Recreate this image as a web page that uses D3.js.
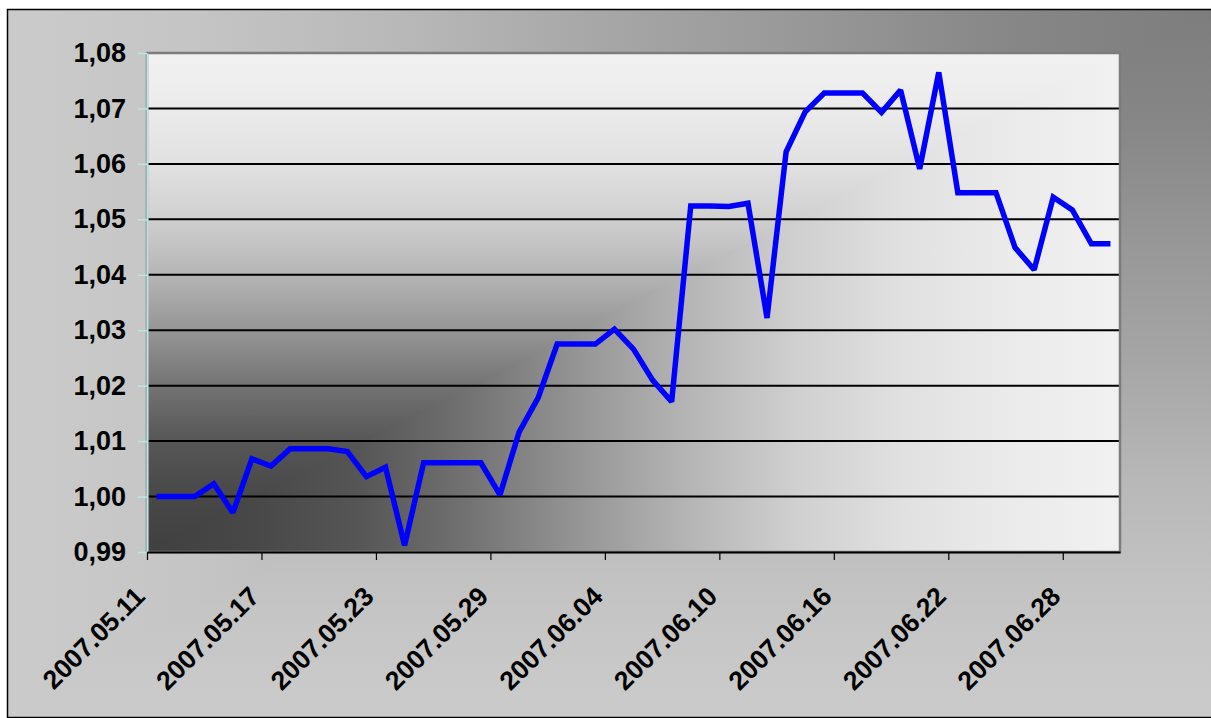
<!DOCTYPE html>
<html>
<head>
<meta charset="utf-8">
<script src="https://cdn.jsdelivr.net/npm/d3@7"></script>
<style>
  body { margin: 0; background: #fff; }
  svg text { font-family: "Liberation Sans", Arial, sans-serif; font-weight: bold; }
</style>
</head>
<body>
<svg id="chart"></svg>
<script>
// categories (one per day)
const dates = [
  "2007.05.11","2007.05.12","2007.05.13","2007.05.14","2007.05.15","2007.05.16","2007.05.17",
  "2007.05.18","2007.05.19","2007.05.20","2007.05.21","2007.05.22","2007.05.23","2007.05.24",
  "2007.05.25","2007.05.26","2007.05.27","2007.05.28","2007.05.29","2007.05.30","2007.05.31",
  "2007.06.01","2007.06.02","2007.06.03","2007.06.04","2007.06.05","2007.06.06","2007.06.07",
  "2007.06.08","2007.06.09","2007.06.10","2007.06.11","2007.06.12","2007.06.13","2007.06.14",
  "2007.06.15","2007.06.16","2007.06.17","2007.06.18","2007.06.19","2007.06.20","2007.06.21",
  "2007.06.22","2007.06.23","2007.06.24","2007.06.25","2007.06.26","2007.06.27","2007.06.28",
  "2007.06.29","2007.06.30"
];
// series values
const values = [
  1.0000, 1.0000, 1.0000, 1.0023, 0.9971, 1.0068, 1.0055,
  1.0086, 1.0086, 1.0086, 1.0081, 1.0036, 1.0053, 0.9912,
  1.0061, 1.0061, 1.0061, 1.0061, 1.0003, 1.0116, 1.0178,
  1.0275, 1.0275, 1.0275, 1.0302, 1.0266, 1.0210, 1.0171,
  1.0524, 1.0524, 1.0523, 1.0529, 1.0322, 1.0622, 1.0694,
  1.0728, 1.0728, 1.0728, 1.0693, 1.0733, 1.0591, 1.0765,
  1.0548, 1.0548, 1.0548, 1.0449, 1.0409, 1.0540, 1.0517,
  1.0456, 1.0456
];
// tick labels
const yTicks = [0.99, 1.00, 1.01, 1.02, 1.03, 1.04, 1.05, 1.06, 1.07, 1.08];
const xTickDates = ["2007.05.11","2007.05.17","2007.05.23","2007.05.29","2007.06.04",
                    "2007.06.10","2007.06.16","2007.06.22","2007.06.28"];

const width = 1211, height = 718;
const margin = {top: 53, right: 91, bottom: 166, left: 147};
const pw = width - margin.left - margin.right,
      ph = height - margin.top - margin.bottom;

const svg = d3.select("#chart").attr("width", width).attr("height", height);
const defs = svg.append("defs");

// gradient helper: stops given as [t, gray]
function grad(id, x1, y1, x2, y2, stops) {
  const g = defs.append("linearGradient").attr("id", id)
    .attr("x1", x1).attr("y1", y1).attr("x2", x2).attr("y2", y2);
  stops.forEach(s => g.append("stop").attr("offset", s[0])
    .attr("stop-color", d3.rgb(s[1], s[1], s[1])));
}
const outerStops = [[0,125],[0.17,135],[0.34,152],[0.5,166],[0.67,184],[0.85,197],[1,203]];
const plotStops = [[0,64],[0.11,72],[0.22,86],[0.33,114],[0.44,148],[0.56,182],[0.67,208],[0.78,225],[0.89,235],[1,241]];
// outer: dark at top-right corner
grad("outerH", 1, 0, 0, 0, outerStops);
grad("outerV", 0, 0, 0, 1, outerStops);
// plot: dark at bottom-left corner
grad("plotH", 0, 0, 1, 0, plotStops);
grad("plotV", 0, 1, 0, 0, plotStops);

// outer background
const ox = 7, oy = 9, ow = width - ox + 2, oh = height - oy - 1;
svg.append("rect").attr("x", ox).attr("y", oy).attr("width", ow).attr("height", oh)
  .attr("fill", "url(#outerV)");
svg.append("path")
  .attr("d", `M${ox},${oy}L${ox + ow},${oy}L${ox},${oy + oh}Z`)
  .attr("fill", "url(#outerH)");
svg.append("rect").attr("x", ox + 0.5).attr("y", oy + 0.5).attr("width", ow).attr("height", oh)
  .attr("fill", "none").attr("stroke", "#000").attr("stroke-width", 1.5);

const g = svg.append("g").attr("transform", `translate(${margin.left},${margin.top})`);

// plot area background
g.append("rect").attr("width", pw).attr("height", ph).attr("fill", "url(#plotH)");
g.append("path").attr("d", `M0,${ph}L0,0L${pw},0Z`).attr("fill", "url(#plotV)");

const x = d3.scaleLinear().domain([0, dates.length]).range([0, pw]);
const y = d3.scaleLinear().domain([0.99, 1.08]).range([ph, 0]);

const locale = d3.formatLocale({decimal: ",", thousands: ".", grouping: [3], currency: ["", ""]});
const fmt = locale.format(".2f");

// gridlines
g.append("g").selectAll("line")
  .data(yTicks.filter(t => t > 0.995 && t < 1.075))
  .join("line")
  .attr("x1", 0).attr("x2", pw)
  .attr("y1", d => y(d)).attr("y2", d => y(d))
  .attr("stroke", "#000").attr("stroke-width", 2);

// plot border (top / right)
g.append("rect").attr("x", 0).attr("y", 0).attr("width", pw).attr("height", ph)
  .attr("fill", "none").attr("stroke", "#7c7c7c").attr("stroke-width", 2.5);

// y axis
const yAxis = g.append("g")
  .call(d3.axisLeft(y).tickValues(yTicks).tickFormat(fmt).tickSizeInner(9).tickSizeOuter(0).tickPadding(12));
yAxis.select(".domain").attr("stroke", "#b8e8e8").attr("stroke-width", 2);
yAxis.selectAll(".tick line").attr("stroke", "#b8e8e8").attr("stroke-width", 1.5);
yAxis.selectAll("text").attr("font-size", 27).attr("fill", "#000");

// x axis
const xAxis = g.append("g").attr("transform", `translate(0,${ph})`)
  .call(d3.axisBottom(x).tickValues(xTickDates.map(d => dates.indexOf(d)))
    .tickFormat(i => dates[i]).tickSizeInner(8).tickSizeOuter(0));
xAxis.select(".domain").attr("stroke", "#000").attr("stroke-width", 2);
xAxis.selectAll(".tick line").attr("stroke", "#000").attr("stroke-width", 1.2);
xAxis.selectAll("text")
  .attr("font-size", 26.5).attr("fill", "#000")
  .attr("x", 0).attr("y", 0).attr("dy", 0)
  .attr("text-anchor", "end")
  .attr("transform", "translate(-1,46) rotate(-45)");

// the line
const line = d3.line()
  .x((d, i) => x(i + 0.5))
  .y(d => y(d));

g.append("path")
  .datum(values)
  .attr("d", line)
  .attr("fill", "none")
  .attr("stroke", "#0000ff")
  .attr("stroke-width", 5.5)
  .attr("stroke-linejoin", "miter")
  .attr("stroke-miterlimit", 2);
</script>
</body>
</html>
